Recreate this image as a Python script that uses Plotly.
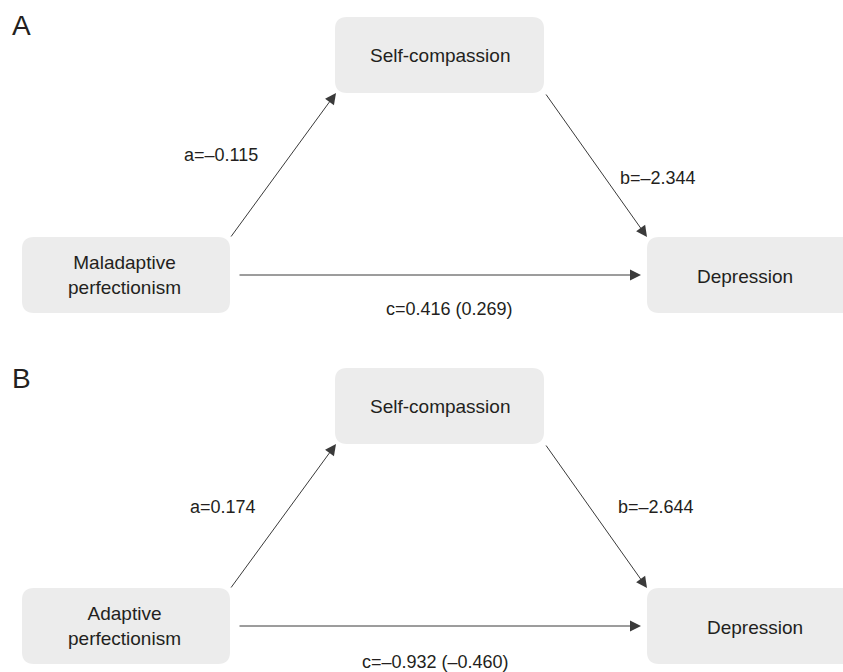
import plotly.graph_objects as go

# ---- data ----
panels = ["A", "B"]
predictors = ["Maladaptive<br>perfectionism", "Adaptive<br>perfectionism"]
mediator = "Self-compassion"
outcome = "Depression"
a_path = [-0.115, 0.174]
b_path = [-2.344, -2.644]
c_total = [0.416, -0.932]
c_direct = [0.269, -0.460]

# ---- layout geometry (pixels) ----
W, H = 843, 672
panel_dy = [0, 351]
top_box = (335, 544, 17, 93)          # x0, x1, y0, y1 (panel A)
left_box = (22, 230, 237, 313)
right_box = (647, 900, 237, 313)
label_pos = [
    dict(a=(221, 155), b=(658, 178), c=(449, 309), dep=745, tag=(21, 25)),
    dict(a=(223, 156), b=(656, 156), c=(435, 311), dep=755, tag=(21, 27)),
]

BOX_FILL = "#ECECEC"
TXT = "#231F20"
LINE = "#3A3A3A"
FONT = "Liberation Sans, Arial, sans-serif"


def fmt(v):
    s = f"{v:.3f}"
    return s.replace("-", "\u2013")


def rrect(x0, x1, y0, y1, r=12):
    return (f"M{x0+r},{y0} L{x1-r},{y0} Q{x1},{y0} {x1},{y0+r} "
            f"L{x1},{y1-r} Q{x1},{y1} {x1-r},{y1} L{x0+r},{y1} "
            f"Q{x0},{y1} {x0},{y1-r} L{x0},{y0+r} Q{x0},{y0} {x0+r},{y0} Z")


fig = go.Figure()
shapes = []
ann = []

for i, p in enumerate(panels):
    dy = panel_dy[i]
    lp = label_pos[i]
    tb = (top_box[0], top_box[1], top_box[2] + dy, top_box[3] + dy)
    lb = (left_box[0], left_box[1], left_box[2] + dy, left_box[3] + dy)
    rb = (right_box[0], right_box[1], right_box[2] + dy, right_box[3] + dy)
    for b in (tb, lb, rb):
        shapes.append(dict(type="path", path=rrect(*b), xref="x", yref="y",
                           fillcolor=BOX_FILL, line=dict(width=0), layer="below"))
    # box texts
    ann.append(dict(x=(tb[0] + tb[1]) / 2, y=(tb[2] + tb[3]) / 2, text=mediator,
                    showarrow=False, font=dict(size=19, color=TXT, family=FONT)))
    ann.append(dict(x=124, y=(lb[2] + lb[3]) / 2, text=predictors[i],
                    showarrow=False, font=dict(size=19, color=TXT, family=FONT)))
    ann.append(dict(x=lp["dep"], y=(rb[2] + rb[3]) / 2 + 1, text=outcome,
                    showarrow=False, font=dict(size=19, color=TXT, family=FONT)))
    # panel tag
    ann.append(dict(x=lp["tag"][0], y=lp["tag"][1] + dy, text=p, showarrow=False,
                    font=dict(size=28, color=TXT, family=FONT)))
    # arrows
    arrows = [
        ((lb[1], lb[2] + 1), (tb[0] + 1, tb[3])),
        ((tb[1] + 1, tb[3]), (rb[0], rb[2])),
        ((lb[1] + 8, (lb[2] + lb[3]) / 2), (rb[0] - 6, (lb[2] + lb[3]) / 2)),
    ]
    for (tx, ty), (hx, hy) in arrows:
        ann.append(dict(x=hx, y=hy, ax=tx, ay=ty, xref="x", yref="y",
                        axref="x", ayref="y", text="", showarrow=True,
                        arrowhead=2, arrowsize=2.2, arrowwidth=1,
                        arrowcolor=LINE, standoff=0, startstandoff=0))
    # path labels
    ann.append(dict(x=lp["a"][0], y=lp["a"][1] + dy,
                    text=f"a={fmt(a_path[i])}", showarrow=False,
                    font=dict(size=18, color=TXT, family=FONT)))
    ann.append(dict(x=lp["b"][0], y=lp["b"][1] + dy,
                    text=f"b={fmt(b_path[i])}", showarrow=False,
                    font=dict(size=18, color=TXT, family=FONT)))
    ann.append(dict(x=lp["c"][0], y=lp["c"][1] + dy,
                    text=f"c={fmt(c_total[i])} ({fmt(c_direct[i])})", showarrow=False,
                    font=dict(size=18, color=TXT, family=FONT)))

for a in ann:
    a.setdefault("xref", "x")
    a.setdefault("yref", "y")

fig.update_layout(
    width=W, height=H,
    margin=dict(l=0, r=0, t=0, b=0),
    paper_bgcolor="white", plot_bgcolor="white",
    xaxis=dict(range=[0, W], visible=False, fixedrange=True),
    yaxis=dict(range=[H, 0], visible=False, fixedrange=True),
    shapes=shapes, annotations=ann, showlegend=False,
)

fig.write_html(
    "out.html",
    config={"displayModeBar": False},
    post_script="document.body.style.margin='0';document.body.style.overflow='hidden';",
)
